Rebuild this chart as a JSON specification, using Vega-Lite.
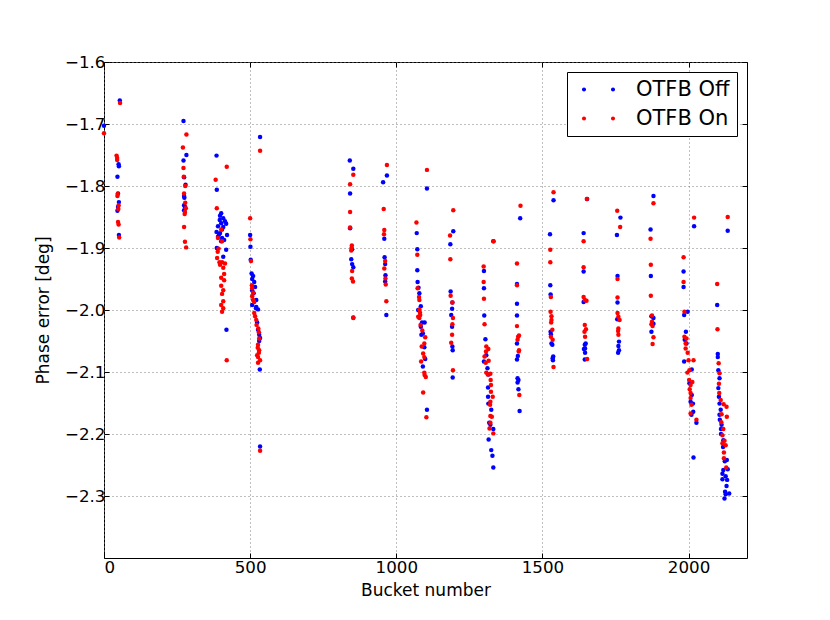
{
  "$schema": "https://vega.github.io/schema/vega-lite/v6.json",
  "description": "Phase error per bucket with OTFB off and on",
  "width": 643,
  "height": 496,
  "autosize": {"type": "none"},
  "padding": {"left": 104, "top": 62, "right": 83, "bottom": 62},
  "background": "white",
  "config": {
    "font": "DejaVu Sans",
    "view": {"stroke": "#000", "strokeWidth": 1},
    "axis": {
      "labelFont": "DejaVu Sans", "labelFontSize": 16.7, "labelColor": "#000",
      "titleFont": "DejaVu Sans", "titleFontSize": 17, "titleFontWeight": "normal", "titleColor": "#000",
      "domain": false, "tickColor": "#000", "tickSize": -5, "tickWidth": 1,
      "gridColor": "#7f7f7f", "gridDash": [1, 3], "gridWidth": 1, "gridOpacity": 1
    },
    "legend": {
      "orient": "top-right", "offset": 10, "title": null,
      "labelFont": "DejaVu Sans", "labelFontSize": 21, "labelColor": "#000",
      "strokeColor": "#000", "fillColor": "#fff", "padding": 7,
      "symbolType": "M-2.48,0L-2.603,0.297L-2.9,0.42L-3.197,0.297L-3.32,0L-3.197,-0.297L-2.9,-0.42L-2.603,-0.297ZM3.32,0L3.197,0.297L2.9,0.42L2.603,0.297L2.48,0L2.603,-0.297L2.9,-0.42L3.197,-0.297Z",
      "symbolSize": 100, "symbolStrokeWidth": 0, "symbolOffset": 14,
      "labelOffset": 27, "rowPadding": 7
    }
  },
  "data": {
    "values": [
      {"bucket": 0, "phase": -1.703, "otfb": "OTFB Off"},
      {"bucket": 54, "phase": -1.662, "otfb": "OTFB Off"},
      {"bucket": 50, "phase": -1.765, "otfb": "OTFB Off"},
      {"bucket": 51, "phase": -1.768, "otfb": "OTFB Off"},
      {"bucket": 46, "phase": -1.785, "otfb": "OTFB Off"},
      {"bucket": 48, "phase": -1.812, "otfb": "OTFB Off"},
      {"bucket": 51, "phase": -1.826, "otfb": "OTFB Off"},
      {"bucket": 48, "phase": -1.834, "otfb": "OTFB Off"},
      {"bucket": 46, "phase": -1.840, "otfb": "OTFB Off"},
      {"bucket": 51, "phase": -1.879, "otfb": "OTFB Off"},
      {"bucket": 272, "phase": -1.695, "otfb": "OTFB Off"},
      {"bucket": 282, "phase": -1.750, "otfb": "OTFB Off"},
      {"bucket": 272, "phase": -1.759, "otfb": "OTFB Off"},
      {"bucket": 274, "phase": -1.786, "otfb": "OTFB Off"},
      {"bucket": 279, "phase": -1.798, "otfb": "OTFB Off"},
      {"bucket": 274, "phase": -1.816, "otfb": "OTFB Off"},
      {"bucket": 275, "phase": -1.819, "otfb": "OTFB Off"},
      {"bucket": 274, "phase": -1.831, "otfb": "OTFB Off"},
      {"bucket": 277, "phase": -1.834, "otfb": "OTFB Off"},
      {"bucket": 274, "phase": -1.839, "otfb": "OTFB Off"},
      {"bucket": 385, "phase": -1.751, "otfb": "OTFB Off"},
      {"bucket": 386, "phase": -1.806, "otfb": "OTFB Off"},
      {"bucket": 401, "phase": -1.844, "otfb": "OTFB Off"},
      {"bucket": 397, "phase": -1.848, "otfb": "OTFB Off"},
      {"bucket": 408, "phase": -1.852, "otfb": "OTFB Off"},
      {"bucket": 396, "phase": -1.855, "otfb": "OTFB Off"},
      {"bucket": 414, "phase": -1.857, "otfb": "OTFB Off"},
      {"bucket": 401, "phase": -1.860, "otfb": "OTFB Off"},
      {"bucket": 418, "phase": -1.861, "otfb": "OTFB Off"},
      {"bucket": 390, "phase": -1.865, "otfb": "OTFB Off"},
      {"bucket": 408, "phase": -1.866, "otfb": "OTFB Off"},
      {"bucket": 404, "phase": -1.870, "otfb": "OTFB Off"},
      {"bucket": 385, "phase": -1.874, "otfb": "OTFB Off"},
      {"bucket": 397, "phase": -1.876, "otfb": "OTFB Off"},
      {"bucket": 394, "phase": -1.878, "otfb": "OTFB Off"},
      {"bucket": 421, "phase": -1.879, "otfb": "OTFB Off"},
      {"bucket": 390, "phase": -1.882, "otfb": "OTFB Off"},
      {"bucket": 404, "phase": -1.884, "otfb": "OTFB Off"},
      {"bucket": 411, "phase": -1.887, "otfb": "OTFB Off"},
      {"bucket": 401, "phase": -1.889, "otfb": "OTFB Off"},
      {"bucket": 386, "phase": -1.900, "otfb": "OTFB Off"},
      {"bucket": 418, "phase": -1.903, "otfb": "OTFB Off"},
      {"bucket": 408, "phase": -1.914, "otfb": "OTFB Off"},
      {"bucket": 419, "phase": -2.032, "otfb": "OTFB Off"},
      {"bucket": 534, "phase": -1.721, "otfb": "OTFB Off"},
      {"bucket": 500, "phase": -1.879, "otfb": "OTFB Off"},
      {"bucket": 501, "phase": -1.898, "otfb": "OTFB Off"},
      {"bucket": 502, "phase": -1.919, "otfb": "OTFB Off"},
      {"bucket": 505, "phase": -1.941, "otfb": "OTFB Off"},
      {"bucket": 510, "phase": -1.945, "otfb": "OTFB Off"},
      {"bucket": 507, "phase": -1.950, "otfb": "OTFB Off"},
      {"bucket": 514, "phase": -1.955, "otfb": "OTFB Off"},
      {"bucket": 517, "phase": -1.963, "otfb": "OTFB Off"},
      {"bucket": 507, "phase": -1.968, "otfb": "OTFB Off"},
      {"bucket": 512, "phase": -1.973, "otfb": "OTFB Off"},
      {"bucket": 521, "phase": -1.984, "otfb": "OTFB Off"},
      {"bucket": 507, "phase": -1.992, "otfb": "OTFB Off"},
      {"bucket": 521, "phase": -1.995, "otfb": "OTFB Off"},
      {"bucket": 520, "phase": -1.997, "otfb": "OTFB Off"},
      {"bucket": 527, "phase": -1.999, "otfb": "OTFB Off"},
      {"bucket": 524, "phase": -2.020, "otfb": "OTFB Off"},
      {"bucket": 527, "phase": -2.032, "otfb": "OTFB Off"},
      {"bucket": 531, "phase": -2.040, "otfb": "OTFB Off"},
      {"bucket": 534, "phase": -2.045, "otfb": "OTFB Off"},
      {"bucket": 531, "phase": -2.050, "otfb": "OTFB Off"},
      {"bucket": 533, "phase": -2.096, "otfb": "OTFB Off"},
      {"bucket": 534, "phase": -2.220, "otfb": "OTFB Off"},
      {"bucket": 841, "phase": -1.759, "otfb": "OTFB Off"},
      {"bucket": 853, "phase": -1.772, "otfb": "OTFB Off"},
      {"bucket": 842, "phase": -1.812, "otfb": "OTFB Off"},
      {"bucket": 842, "phase": -1.868, "otfb": "OTFB Off"},
      {"bucket": 849, "phase": -1.902, "otfb": "OTFB Off"},
      {"bucket": 846, "phase": -1.918, "otfb": "OTFB Off"},
      {"bucket": 849, "phase": -1.926, "otfb": "OTFB Off"},
      {"bucket": 853, "phase": -1.931, "otfb": "OTFB Off"},
      {"bucket": 853, "phase": -2.012, "otfb": "OTFB Off"},
      {"bucket": 968, "phase": -1.783, "otfb": "OTFB Off"},
      {"bucket": 955, "phase": -1.794, "otfb": "OTFB Off"},
      {"bucket": 959, "phase": -1.885, "otfb": "OTFB Off"},
      {"bucket": 960, "phase": -1.915, "otfb": "OTFB Off"},
      {"bucket": 962, "phase": -1.926, "otfb": "OTFB Off"},
      {"bucket": 963, "phase": -1.944, "otfb": "OTFB Off"},
      {"bucket": 962, "phase": -1.954, "otfb": "OTFB Off"},
      {"bucket": 966, "phase": -2.008, "otfb": "OTFB Off"},
      {"bucket": 1105, "phase": -1.804, "otfb": "OTFB Off"},
      {"bucket": 1070, "phase": -1.876, "otfb": "OTFB Off"},
      {"bucket": 1072, "phase": -1.902, "otfb": "OTFB Off"},
      {"bucket": 1072, "phase": -1.936, "otfb": "OTFB Off"},
      {"bucket": 1073, "phase": -1.955, "otfb": "OTFB Off"},
      {"bucket": 1076, "phase": -1.964, "otfb": "OTFB Off"},
      {"bucket": 1079, "phase": -1.973, "otfb": "OTFB Off"},
      {"bucket": 1084, "phase": -1.994, "otfb": "OTFB Off"},
      {"bucket": 1075, "phase": -2.000, "otfb": "OTFB Off"},
      {"bucket": 1088, "phase": -2.020, "otfb": "OTFB Off"},
      {"bucket": 1097, "phase": -2.020, "otfb": "OTFB Off"},
      {"bucket": 1084, "phase": -2.027, "otfb": "OTFB Off"},
      {"bucket": 1091, "phase": -2.038, "otfb": "OTFB Off"},
      {"bucket": 1086, "phase": -2.040, "otfb": "OTFB Off"},
      {"bucket": 1096, "phase": -2.060, "otfb": "OTFB Off"},
      {"bucket": 1099, "phase": -2.079, "otfb": "OTFB Off"},
      {"bucket": 1091, "phase": -2.091, "otfb": "OTFB Off"},
      {"bucket": 1105, "phase": -2.161, "otfb": "OTFB Off"},
      {"bucket": 1195, "phase": -1.873, "otfb": "OTFB Off"},
      {"bucket": 1185, "phase": -1.894, "otfb": "OTFB Off"},
      {"bucket": 1186, "phase": -1.970, "otfb": "OTFB Off"},
      {"bucket": 1192, "phase": -1.988, "otfb": "OTFB Off"},
      {"bucket": 1191, "phase": -1.998, "otfb": "OTFB Off"},
      {"bucket": 1188, "phase": -2.008, "otfb": "OTFB Off"},
      {"bucket": 1191, "phase": -2.027, "otfb": "OTFB Off"},
      {"bucket": 1192, "phase": -2.059, "otfb": "OTFB Off"},
      {"bucket": 1193, "phase": -2.065, "otfb": "OTFB Off"},
      {"bucket": 1193, "phase": -2.109, "otfb": "OTFB Off"},
      {"bucket": 1332, "phase": -1.889, "otfb": "OTFB Off"},
      {"bucket": 1300, "phase": -1.937, "otfb": "OTFB Off"},
      {"bucket": 1300, "phase": -1.965, "otfb": "OTFB Off"},
      {"bucket": 1301, "phase": -2.009, "otfb": "OTFB Off"},
      {"bucket": 1305, "phase": -2.047, "otfb": "OTFB Off"},
      {"bucket": 1308, "phase": -2.073, "otfb": "OTFB Off"},
      {"bucket": 1300, "phase": -2.083, "otfb": "OTFB Off"},
      {"bucket": 1312, "phase": -2.094, "otfb": "OTFB Off"},
      {"bucket": 1316, "phase": -2.104, "otfb": "OTFB Off"},
      {"bucket": 1314, "phase": -2.125, "otfb": "OTFB Off"},
      {"bucket": 1314, "phase": -2.140, "otfb": "OTFB Off"},
      {"bucket": 1315, "phase": -2.151, "otfb": "OTFB Off"},
      {"bucket": 1325, "phase": -2.161, "otfb": "OTFB Off"},
      {"bucket": 1318, "phase": -2.182, "otfb": "OTFB Off"},
      {"bucket": 1322, "phase": -2.185, "otfb": "OTFB Off"},
      {"bucket": 1332, "phase": -2.192, "otfb": "OTFB Off"},
      {"bucket": 1316, "phase": -2.209, "otfb": "OTFB Off"},
      {"bucket": 1325, "phase": -2.226, "otfb": "OTFB Off"},
      {"bucket": 1329, "phase": -2.235, "otfb": "OTFB Off"},
      {"bucket": 1332, "phase": -2.254, "otfb": "OTFB Off"},
      {"bucket": 1424, "phase": -1.852, "otfb": "OTFB Off"},
      {"bucket": 1413, "phase": -1.958, "otfb": "OTFB Off"},
      {"bucket": 1413, "phase": -1.990, "otfb": "OTFB Off"},
      {"bucket": 1413, "phase": -2.009, "otfb": "OTFB Off"},
      {"bucket": 1413, "phase": -2.054, "otfb": "OTFB Off"},
      {"bucket": 1416, "phase": -2.074, "otfb": "OTFB Off"},
      {"bucket": 1413, "phase": -2.080, "otfb": "OTFB Off"},
      {"bucket": 1415, "phase": -2.110, "otfb": "OTFB Off"},
      {"bucket": 1418, "phase": -2.113, "otfb": "OTFB Off"},
      {"bucket": 1415, "phase": -2.117, "otfb": "OTFB Off"},
      {"bucket": 1418, "phase": -2.128, "otfb": "OTFB Off"},
      {"bucket": 1422, "phase": -2.163, "otfb": "OTFB Off"},
      {"bucket": 1538, "phase": -1.823, "otfb": "OTFB Off"},
      {"bucket": 1526, "phase": -1.878, "otfb": "OTFB Off"},
      {"bucket": 1527, "phase": -1.960, "otfb": "OTFB Off"},
      {"bucket": 1528, "phase": -1.975, "otfb": "OTFB Off"},
      {"bucket": 1528, "phase": -2.035, "otfb": "OTFB Off"},
      {"bucket": 1529, "phase": -2.039, "otfb": "OTFB Off"},
      {"bucket": 1531, "phase": -2.054, "otfb": "OTFB Off"},
      {"bucket": 1534, "phase": -2.056, "otfb": "OTFB Off"},
      {"bucket": 1537, "phase": -2.075, "otfb": "OTFB Off"},
      {"bucket": 1535, "phase": -2.078, "otfb": "OTFB Off"},
      {"bucket": 1536, "phase": -2.081, "otfb": "OTFB Off"},
      {"bucket": 1653, "phase": -1.821, "otfb": "OTFB Off"},
      {"bucket": 1641, "phase": -1.876, "otfb": "OTFB Off"},
      {"bucket": 1641, "phase": -1.938, "otfb": "OTFB Off"},
      {"bucket": 1641, "phase": -1.987, "otfb": "OTFB Off"},
      {"bucket": 1648, "phase": -2.054, "otfb": "OTFB Off"},
      {"bucket": 1645, "phase": -2.056, "otfb": "OTFB Off"},
      {"bucket": 1646, "phase": -2.062, "otfb": "OTFB Off"},
      {"bucket": 1642, "phase": -2.063, "otfb": "OTFB Off"},
      {"bucket": 1646, "phase": -2.069, "otfb": "OTFB Off"},
      {"bucket": 1645, "phase": -2.080, "otfb": "OTFB Off"},
      {"bucket": 1767, "phase": -1.851, "otfb": "OTFB Off"},
      {"bucket": 1755, "phase": -1.879, "otfb": "OTFB Off"},
      {"bucket": 1757, "phase": -1.945, "otfb": "OTFB Off"},
      {"bucket": 1757, "phase": -1.988, "otfb": "OTFB Off"},
      {"bucket": 1756, "phase": -2.015, "otfb": "OTFB Off"},
      {"bucket": 1762, "phase": -2.051, "otfb": "OTFB Off"},
      {"bucket": 1760, "phase": -2.058, "otfb": "OTFB Off"},
      {"bucket": 1762, "phase": -2.065, "otfb": "OTFB Off"},
      {"bucket": 1759, "phase": -2.069, "otfb": "OTFB Off"},
      {"bucket": 1880, "phase": -1.816, "otfb": "OTFB Off"},
      {"bucket": 1870, "phase": -1.870, "otfb": "OTFB Off"},
      {"bucket": 1871, "phase": -1.945, "otfb": "OTFB Off"},
      {"bucket": 1873, "phase": -2.010, "otfb": "OTFB Off"},
      {"bucket": 1880, "phase": -2.013, "otfb": "OTFB Off"},
      {"bucket": 1880, "phase": -2.022, "otfb": "OTFB Off"},
      {"bucket": 1873, "phase": -2.035, "otfb": "OTFB Off"},
      {"bucket": 2019, "phase": -1.865, "otfb": "OTFB Off"},
      {"bucket": 1983, "phase": -1.938, "otfb": "OTFB Off"},
      {"bucket": 1983, "phase": -1.963, "otfb": "OTFB Off"},
      {"bucket": 1997, "phase": -2.003, "otfb": "OTFB Off"},
      {"bucket": 1985, "phase": -2.008, "otfb": "OTFB Off"},
      {"bucket": 1991, "phase": -2.035, "otfb": "OTFB Off"},
      {"bucket": 1987, "phase": -2.048, "otfb": "OTFB Off"},
      {"bucket": 1993, "phase": -2.054, "otfb": "OTFB Off"},
      {"bucket": 1985, "phase": -2.083, "otfb": "OTFB Off"},
      {"bucket": 2011, "phase": -2.096, "otfb": "OTFB Off"},
      {"bucket": 2003, "phase": -2.118, "otfb": "OTFB Off"},
      {"bucket": 2011, "phase": -2.137, "otfb": "OTFB Off"},
      {"bucket": 2007, "phase": -2.148, "otfb": "OTFB Off"},
      {"bucket": 2015, "phase": -2.151, "otfb": "OTFB Off"},
      {"bucket": 2016, "phase": -2.164, "otfb": "OTFB Off"},
      {"bucket": 2010, "phase": -2.169, "otfb": "OTFB Off"},
      {"bucket": 2027, "phase": -2.182, "otfb": "OTFB Off"},
      {"bucket": 2017, "phase": -2.238, "otfb": "OTFB Off"},
      {"bucket": 2134, "phase": -1.872, "otfb": "OTFB Off"},
      {"bucket": 2098, "phase": -1.992, "otfb": "OTFB Off"},
      {"bucket": 2100, "phase": -2.071, "otfb": "OTFB Off"},
      {"bucket": 2100, "phase": -2.076, "otfb": "OTFB Off"},
      {"bucket": 2102, "phase": -2.097, "otfb": "OTFB Off"},
      {"bucket": 2106, "phase": -2.110, "otfb": "OTFB Off"},
      {"bucket": 2102, "phase": -2.126, "otfb": "OTFB Off"},
      {"bucket": 2104, "phase": -2.140, "otfb": "OTFB Off"},
      {"bucket": 2106, "phase": -2.151, "otfb": "OTFB Off"},
      {"bucket": 2110, "phase": -2.161, "otfb": "OTFB Off"},
      {"bucket": 2106, "phase": -2.169, "otfb": "OTFB Off"},
      {"bucket": 2107, "phase": -2.177, "otfb": "OTFB Off"},
      {"bucket": 2113, "phase": -2.185, "otfb": "OTFB Off"},
      {"bucket": 2111, "phase": -2.192, "otfb": "OTFB Off"},
      {"bucket": 2111, "phase": -2.200, "otfb": "OTFB Off"},
      {"bucket": 2119, "phase": -2.210, "otfb": "OTFB Off"},
      {"bucket": 2118, "phase": -2.221, "otfb": "OTFB Off"},
      {"bucket": 2124, "phase": -2.244, "otfb": "OTFB Off"},
      {"bucket": 2131, "phase": -2.242, "otfb": "OTFB Off"},
      {"bucket": 2119, "phase": -2.258, "otfb": "OTFB Off"},
      {"bucket": 2134, "phase": -2.257, "otfb": "OTFB Off"},
      {"bucket": 2116, "phase": -2.264, "otfb": "OTFB Off"},
      {"bucket": 2127, "phase": -2.268, "otfb": "OTFB Off"},
      {"bucket": 2116, "phase": -2.273, "otfb": "OTFB Off"},
      {"bucket": 2132, "phase": -2.274, "otfb": "OTFB Off"},
      {"bucket": 2130, "phase": -2.284, "otfb": "OTFB Off"},
      {"bucket": 2125, "phase": -2.293, "otfb": "OTFB Off"},
      {"bucket": 2139, "phase": -2.296, "otfb": "OTFB Off"},
      {"bucket": 2127, "phase": -2.297, "otfb": "OTFB Off"},
      {"bucket": 2123, "phase": -2.304, "otfb": "OTFB Off"},
      {"bucket": 0, "phase": -1.715, "otfb": "OTFB On"},
      {"bucket": 55, "phase": -1.666, "otfb": "OTFB On"},
      {"bucket": 43, "phase": -1.751, "otfb": "OTFB On"},
      {"bucket": 45, "phase": -1.755, "otfb": "OTFB On"},
      {"bucket": 45, "phase": -1.758, "otfb": "OTFB On"},
      {"bucket": 47, "phase": -1.813, "otfb": "OTFB On"},
      {"bucket": 46, "phase": -1.816, "otfb": "OTFB On"},
      {"bucket": 50, "phase": -1.831, "otfb": "OTFB On"},
      {"bucket": 49, "phase": -1.837, "otfb": "OTFB On"},
      {"bucket": 48, "phase": -1.858, "otfb": "OTFB On"},
      {"bucket": 50, "phase": -1.862, "otfb": "OTFB On"},
      {"bucket": 52, "phase": -1.883, "otfb": "OTFB On"},
      {"bucket": 282, "phase": -1.717, "otfb": "OTFB On"},
      {"bucket": 270, "phase": -1.738, "otfb": "OTFB On"},
      {"bucket": 272, "phase": -1.771, "otfb": "OTFB On"},
      {"bucket": 273, "phase": -1.785, "otfb": "OTFB On"},
      {"bucket": 278, "phase": -1.800, "otfb": "OTFB On"},
      {"bucket": 274, "phase": -1.812, "otfb": "OTFB On"},
      {"bucket": 278, "phase": -1.827, "otfb": "OTFB On"},
      {"bucket": 280, "phase": -1.836, "otfb": "OTFB On"},
      {"bucket": 277, "phase": -1.842, "otfb": "OTFB On"},
      {"bucket": 276, "phase": -1.845, "otfb": "OTFB On"},
      {"bucket": 274, "phase": -1.866, "otfb": "OTFB On"},
      {"bucket": 277, "phase": -1.890, "otfb": "OTFB On"},
      {"bucket": 281, "phase": -1.899, "otfb": "OTFB On"},
      {"bucket": 420, "phase": -1.769, "otfb": "OTFB On"},
      {"bucket": 382, "phase": -1.790, "otfb": "OTFB On"},
      {"bucket": 386, "phase": -1.836, "otfb": "OTFB On"},
      {"bucket": 401, "phase": -1.870, "otfb": "OTFB On"},
      {"bucket": 390, "phase": -1.884, "otfb": "OTFB On"},
      {"bucket": 404, "phase": -1.889, "otfb": "OTFB On"},
      {"bucket": 392, "phase": -1.901, "otfb": "OTFB On"},
      {"bucket": 389, "phase": -1.906, "otfb": "OTFB On"},
      {"bucket": 387, "phase": -1.916, "otfb": "OTFB On"},
      {"bucket": 395, "phase": -1.923, "otfb": "OTFB On"},
      {"bucket": 404, "phase": -1.923, "otfb": "OTFB On"},
      {"bucket": 414, "phase": -1.925, "otfb": "OTFB On"},
      {"bucket": 397, "phase": -1.927, "otfb": "OTFB On"},
      {"bucket": 408, "phase": -1.932, "otfb": "OTFB On"},
      {"bucket": 411, "phase": -1.942, "otfb": "OTFB On"},
      {"bucket": 401, "phase": -1.948, "otfb": "OTFB On"},
      {"bucket": 411, "phase": -1.952, "otfb": "OTFB On"},
      {"bucket": 401, "phase": -1.961, "otfb": "OTFB On"},
      {"bucket": 408, "phase": -1.968, "otfb": "OTFB On"},
      {"bucket": 404, "phase": -1.974, "otfb": "OTFB On"},
      {"bucket": 408, "phase": -1.986, "otfb": "OTFB On"},
      {"bucket": 401, "phase": -1.992, "otfb": "OTFB On"},
      {"bucket": 408, "phase": -1.997, "otfb": "OTFB On"},
      {"bucket": 404, "phase": -2.003, "otfb": "OTFB On"},
      {"bucket": 420, "phase": -2.081, "otfb": "OTFB On"},
      {"bucket": 534, "phase": -1.743, "otfb": "OTFB On"},
      {"bucket": 500, "phase": -1.852, "otfb": "OTFB On"},
      {"bucket": 501, "phase": -1.886, "otfb": "OTFB On"},
      {"bucket": 503, "phase": -1.921, "otfb": "OTFB On"},
      {"bucket": 506, "phase": -1.960, "otfb": "OTFB On"},
      {"bucket": 507, "phase": -1.965, "otfb": "OTFB On"},
      {"bucket": 510, "phase": -1.972, "otfb": "OTFB On"},
      {"bucket": 507, "phase": -1.978, "otfb": "OTFB On"},
      {"bucket": 510, "phase": -1.984, "otfb": "OTFB On"},
      {"bucket": 514, "phase": -1.987, "otfb": "OTFB On"},
      {"bucket": 514, "phase": -2.005, "otfb": "OTFB On"},
      {"bucket": 517, "phase": -2.010, "otfb": "OTFB On"},
      {"bucket": 521, "phase": -2.016, "otfb": "OTFB On"},
      {"bucket": 522, "phase": -2.024, "otfb": "OTFB On"},
      {"bucket": 528, "phase": -2.030, "otfb": "OTFB On"},
      {"bucket": 530, "phase": -2.036, "otfb": "OTFB On"},
      {"bucket": 531, "phase": -2.046, "otfb": "OTFB On"},
      {"bucket": 527, "phase": -2.056, "otfb": "OTFB On"},
      {"bucket": 526, "phase": -2.061, "otfb": "OTFB On"},
      {"bucket": 531, "phase": -2.065, "otfb": "OTFB On"},
      {"bucket": 530, "phase": -2.069, "otfb": "OTFB On"},
      {"bucket": 524, "phase": -2.073, "otfb": "OTFB On"},
      {"bucket": 527, "phase": -2.076, "otfb": "OTFB On"},
      {"bucket": 534, "phase": -2.081, "otfb": "OTFB On"},
      {"bucket": 527, "phase": -2.085, "otfb": "OTFB On"},
      {"bucket": 534, "phase": -2.227, "otfb": "OTFB On"},
      {"bucket": 853, "phase": -1.782, "otfb": "OTFB On"},
      {"bucket": 842, "phase": -1.797, "otfb": "OTFB On"},
      {"bucket": 842, "phase": -1.842, "otfb": "OTFB On"},
      {"bucket": 842, "phase": -1.867, "otfb": "OTFB On"},
      {"bucket": 848, "phase": -1.896, "otfb": "OTFB On"},
      {"bucket": 847, "phase": -1.900, "otfb": "OTFB On"},
      {"bucket": 846, "phase": -1.904, "otfb": "OTFB On"},
      {"bucket": 849, "phase": -1.937, "otfb": "OTFB On"},
      {"bucket": 848, "phase": -1.949, "otfb": "OTFB On"},
      {"bucket": 852, "phase": -1.954, "otfb": "OTFB On"},
      {"bucket": 853, "phase": -2.013, "otfb": "OTFB On"},
      {"bucket": 968, "phase": -1.766, "otfb": "OTFB On"},
      {"bucket": 957, "phase": -1.837, "otfb": "OTFB On"},
      {"bucket": 959, "phase": -1.871, "otfb": "OTFB On"},
      {"bucket": 958, "phase": -1.878, "otfb": "OTFB On"},
      {"bucket": 962, "phase": -1.921, "otfb": "OTFB On"},
      {"bucket": 959, "phase": -1.933, "otfb": "OTFB On"},
      {"bucket": 963, "phase": -1.949, "otfb": "OTFB On"},
      {"bucket": 964, "phase": -1.959, "otfb": "OTFB On"},
      {"bucket": 966, "phase": -1.986, "otfb": "OTFB On"},
      {"bucket": 1105, "phase": -1.774, "otfb": "OTFB On"},
      {"bucket": 1069, "phase": -1.859, "otfb": "OTFB On"},
      {"bucket": 1072, "phase": -1.911, "otfb": "OTFB On"},
      {"bucket": 1073, "phase": -1.965, "otfb": "OTFB On"},
      {"bucket": 1078, "phase": -1.979, "otfb": "OTFB On"},
      {"bucket": 1079, "phase": -1.984, "otfb": "OTFB On"},
      {"bucket": 1079, "phase": -1.999, "otfb": "OTFB On"},
      {"bucket": 1081, "phase": -2.004, "otfb": "OTFB On"},
      {"bucket": 1082, "phase": -2.008, "otfb": "OTFB On"},
      {"bucket": 1075, "phase": -2.011, "otfb": "OTFB On"},
      {"bucket": 1079, "phase": -2.013, "otfb": "OTFB On"},
      {"bucket": 1083, "phase": -2.024, "otfb": "OTFB On"},
      {"bucket": 1089, "phase": -2.033, "otfb": "OTFB On"},
      {"bucket": 1099, "phase": -2.044, "otfb": "OTFB On"},
      {"bucket": 1096, "phase": -2.054, "otfb": "OTFB On"},
      {"bucket": 1087, "phase": -2.059, "otfb": "OTFB On"},
      {"bucket": 1092, "phase": -2.070, "otfb": "OTFB On"},
      {"bucket": 1096, "phase": -2.076, "otfb": "OTFB On"},
      {"bucket": 1085, "phase": -2.083, "otfb": "OTFB On"},
      {"bucket": 1096, "phase": -2.101, "otfb": "OTFB On"},
      {"bucket": 1097, "phase": -2.105, "otfb": "OTFB On"},
      {"bucket": 1101, "phase": -2.108, "otfb": "OTFB On"},
      {"bucket": 1092, "phase": -2.133, "otfb": "OTFB On"},
      {"bucket": 1103, "phase": -2.173, "otfb": "OTFB On"},
      {"bucket": 1195, "phase": -1.839, "otfb": "OTFB On"},
      {"bucket": 1184, "phase": -1.880, "otfb": "OTFB On"},
      {"bucket": 1185, "phase": -1.918, "otfb": "OTFB On"},
      {"bucket": 1186, "phase": -1.977, "otfb": "OTFB On"},
      {"bucket": 1192, "phase": -1.988, "otfb": "OTFB On"},
      {"bucket": 1194, "phase": -2.013, "otfb": "OTFB On"},
      {"bucket": 1192, "phase": -2.023, "otfb": "OTFB On"},
      {"bucket": 1191, "phase": -2.040, "otfb": "OTFB On"},
      {"bucket": 1188, "phase": -2.053, "otfb": "OTFB On"},
      {"bucket": 1194, "phase": -2.097, "otfb": "OTFB On"},
      {"bucket": 1333, "phase": -1.889, "otfb": "OTFB On"},
      {"bucket": 1299, "phase": -1.930, "otfb": "OTFB On"},
      {"bucket": 1299, "phase": -1.955, "otfb": "OTFB On"},
      {"bucket": 1300, "phase": -1.982, "otfb": "OTFB On"},
      {"bucket": 1302, "phase": -2.023, "otfb": "OTFB On"},
      {"bucket": 1308, "phase": -2.059, "otfb": "OTFB On"},
      {"bucket": 1315, "phase": -2.063, "otfb": "OTFB On"},
      {"bucket": 1307, "phase": -2.067, "otfb": "OTFB On"},
      {"bucket": 1302, "phase": -2.075, "otfb": "OTFB On"},
      {"bucket": 1316, "phase": -2.082, "otfb": "OTFB On"},
      {"bucket": 1306, "phase": -2.085, "otfb": "OTFB On"},
      {"bucket": 1308, "phase": -2.101, "otfb": "OTFB On"},
      {"bucket": 1322, "phase": -2.103, "otfb": "OTFB On"},
      {"bucket": 1313, "phase": -2.104, "otfb": "OTFB On"},
      {"bucket": 1323, "phase": -2.113, "otfb": "OTFB On"},
      {"bucket": 1324, "phase": -2.121, "otfb": "OTFB On"},
      {"bucket": 1324, "phase": -2.132, "otfb": "OTFB On"},
      {"bucket": 1330, "phase": -2.140, "otfb": "OTFB On"},
      {"bucket": 1322, "phase": -2.148, "otfb": "OTFB On"},
      {"bucket": 1321, "phase": -2.153, "otfb": "OTFB On"},
      {"bucket": 1322, "phase": -2.171, "otfb": "OTFB On"},
      {"bucket": 1327, "phase": -2.172, "otfb": "OTFB On"},
      {"bucket": 1322, "phase": -2.182, "otfb": "OTFB On"},
      {"bucket": 1319, "phase": -2.191, "otfb": "OTFB On"},
      {"bucket": 1332, "phase": -2.199, "otfb": "OTFB On"},
      {"bucket": 1425, "phase": -1.832, "otfb": "OTFB On"},
      {"bucket": 1413, "phase": -1.925, "otfb": "OTFB On"},
      {"bucket": 1413, "phase": -1.960, "otfb": "OTFB On"},
      {"bucket": 1413, "phase": -2.026, "otfb": "OTFB On"},
      {"bucket": 1420, "phase": -2.041, "otfb": "OTFB On"},
      {"bucket": 1417, "phase": -2.043, "otfb": "OTFB On"},
      {"bucket": 1415, "phase": -2.048, "otfb": "OTFB On"},
      {"bucket": 1420, "phase": -2.065, "otfb": "OTFB On"},
      {"bucket": 1419, "phase": -2.067, "otfb": "OTFB On"},
      {"bucket": 1421, "phase": -2.137, "otfb": "OTFB On"},
      {"bucket": 1538, "phase": -1.810, "otfb": "OTFB On"},
      {"bucket": 1527, "phase": -1.903, "otfb": "OTFB On"},
      {"bucket": 1527, "phase": -1.923, "otfb": "OTFB On"},
      {"bucket": 1529, "phase": -1.979, "otfb": "OTFB On"},
      {"bucket": 1528, "phase": -2.003, "otfb": "OTFB On"},
      {"bucket": 1531, "phase": -2.010, "otfb": "OTFB On"},
      {"bucket": 1531, "phase": -2.016, "otfb": "OTFB On"},
      {"bucket": 1530, "phase": -2.020, "otfb": "OTFB On"},
      {"bucket": 1534, "phase": -2.032, "otfb": "OTFB On"},
      {"bucket": 1529, "phase": -2.043, "otfb": "OTFB On"},
      {"bucket": 1535, "phase": -2.048, "otfb": "OTFB On"},
      {"bucket": 1538, "phase": -2.092, "otfb": "OTFB On"},
      {"bucket": 1652, "phase": -1.821, "otfb": "OTFB On"},
      {"bucket": 1641, "phase": -1.889, "otfb": "OTFB On"},
      {"bucket": 1641, "phase": -1.931, "otfb": "OTFB On"},
      {"bucket": 1641, "phase": -1.979, "otfb": "OTFB On"},
      {"bucket": 1645, "phase": -1.984, "otfb": "OTFB On"},
      {"bucket": 1651, "phase": -1.985, "otfb": "OTFB On"},
      {"bucket": 1645, "phase": -2.024, "otfb": "OTFB On"},
      {"bucket": 1649, "phase": -2.031, "otfb": "OTFB On"},
      {"bucket": 1644, "phase": -2.035, "otfb": "OTFB On"},
      {"bucket": 1646, "phase": -2.043, "otfb": "OTFB On"},
      {"bucket": 1653, "phase": -2.079, "otfb": "OTFB On"},
      {"bucket": 1756, "phase": -1.840, "otfb": "OTFB On"},
      {"bucket": 1766, "phase": -1.866, "otfb": "OTFB On"},
      {"bucket": 1757, "phase": -1.950, "otfb": "OTFB On"},
      {"bucket": 1757, "phase": -1.980, "otfb": "OTFB On"},
      {"bucket": 1757, "phase": -2.005, "otfb": "OTFB On"},
      {"bucket": 1760, "phase": -2.011, "otfb": "OTFB On"},
      {"bucket": 1764, "phase": -2.016, "otfb": "OTFB On"},
      {"bucket": 1760, "phase": -2.030, "otfb": "OTFB On"},
      {"bucket": 1759, "phase": -2.034, "otfb": "OTFB On"},
      {"bucket": 1760, "phase": -2.040, "otfb": "OTFB On"},
      {"bucket": 1880, "phase": -1.828, "otfb": "OTFB On"},
      {"bucket": 1870, "phase": -1.885, "otfb": "OTFB On"},
      {"bucket": 1871, "phase": -1.927, "otfb": "OTFB On"},
      {"bucket": 1871, "phase": -1.977, "otfb": "OTFB On"},
      {"bucket": 1875, "phase": -2.009, "otfb": "OTFB On"},
      {"bucket": 1875, "phase": -2.019, "otfb": "OTFB On"},
      {"bucket": 1873, "phase": -2.023, "otfb": "OTFB On"},
      {"bucket": 1877, "phase": -2.026, "otfb": "OTFB On"},
      {"bucket": 1880, "phase": -2.044, "otfb": "OTFB On"},
      {"bucket": 1877, "phase": -2.055, "otfb": "OTFB On"},
      {"bucket": 2019, "phase": -1.851, "otfb": "OTFB On"},
      {"bucket": 1983, "phase": -1.915, "otfb": "OTFB On"},
      {"bucket": 1983, "phase": -1.955, "otfb": "OTFB On"},
      {"bucket": 1986, "phase": -2.003, "otfb": "OTFB On"},
      {"bucket": 1986, "phase": -2.043, "otfb": "OTFB On"},
      {"bucket": 1993, "phase": -2.046, "otfb": "OTFB On"},
      {"bucket": 1990, "phase": -2.054, "otfb": "OTFB On"},
      {"bucket": 1990, "phase": -2.062, "otfb": "OTFB On"},
      {"bucket": 1997, "phase": -2.069, "otfb": "OTFB On"},
      {"bucket": 2000, "phase": -2.081, "otfb": "OTFB On"},
      {"bucket": 2017, "phase": -2.081, "otfb": "OTFB On"},
      {"bucket": 2003, "phase": -2.097, "otfb": "OTFB On"},
      {"bucket": 1996, "phase": -2.101, "otfb": "OTFB On"},
      {"bucket": 2002, "phase": -2.113, "otfb": "OTFB On"},
      {"bucket": 2013, "phase": -2.116, "otfb": "OTFB On"},
      {"bucket": 2007, "phase": -2.121, "otfb": "OTFB On"},
      {"bucket": 2004, "phase": -2.128, "otfb": "OTFB On"},
      {"bucket": 2007, "phase": -2.134, "otfb": "OTFB On"},
      {"bucket": 2007, "phase": -2.142, "otfb": "OTFB On"},
      {"bucket": 2010, "phase": -2.153, "otfb": "OTFB On"},
      {"bucket": 2007, "phase": -2.167, "otfb": "OTFB On"},
      {"bucket": 2027, "phase": -2.177, "otfb": "OTFB On"},
      {"bucket": 2134, "phase": -1.850, "otfb": "OTFB On"},
      {"bucket": 2098, "phase": -1.958, "otfb": "OTFB On"},
      {"bucket": 2099, "phase": -2.031, "otfb": "OTFB On"},
      {"bucket": 2103, "phase": -2.086, "otfb": "OTFB On"},
      {"bucket": 2106, "phase": -2.102, "otfb": "OTFB On"},
      {"bucket": 2104, "phase": -2.119, "otfb": "OTFB On"},
      {"bucket": 2105, "phase": -2.134, "otfb": "OTFB On"},
      {"bucket": 2110, "phase": -2.145, "otfb": "OTFB On"},
      {"bucket": 2120, "phase": -2.152, "otfb": "OTFB On"},
      {"bucket": 2130, "phase": -2.156, "otfb": "OTFB On"},
      {"bucket": 2113, "phase": -2.168, "otfb": "OTFB On"},
      {"bucket": 2131, "phase": -2.172, "otfb": "OTFB On"},
      {"bucket": 2112, "phase": -2.181, "otfb": "OTFB On"},
      {"bucket": 2119, "phase": -2.192, "otfb": "OTFB On"},
      {"bucket": 2116, "phase": -2.202, "otfb": "OTFB On"},
      {"bucket": 2123, "phase": -2.211, "otfb": "OTFB On"},
      {"bucket": 2116, "phase": -2.215, "otfb": "OTFB On"},
      {"bucket": 2127, "phase": -2.218, "otfb": "OTFB On"},
      {"bucket": 2121, "phase": -2.230, "otfb": "OTFB On"},
      {"bucket": 2121, "phase": -2.239, "otfb": "OTFB On"},
      {"bucket": 2129, "phase": -2.254, "otfb": "OTFB On"}
    ]
  },
  "layer": [
    {
      "transform": [{"filter": "datum.otfb == 'OTFB Off'"}],
      "mark": {"type": "point", "filled": true, "size": 20, "opacity": 1},
      "encoding": {
        "x": {
          "field": "bucket", "type": "quantitative",
          "scale": {"domain": [0, 2200], "nice": false, "zero": false},
          "axis": {"orient": "bottom", "values": [0, 500, 1000, 1500, 2000], "format": "d", "title": "Bucket number", "labelPadding": 6, "titlePadding": 7}
        },
        "y": {
          "field": "phase", "type": "quantitative",
          "scale": {"domain": [-2.4, -1.6], "nice": false, "zero": false},
          "axis": {"orient": "left", "values": [-2.3, -2.2, -2.1, -2.0, -1.9, -1.8, -1.7, -1.6], "labelExpr": "replace(format(datum.value, '.1f'), '-', '\u2212')", "title": "Phase error [deg]", "labelPadding": 4, "titlePadding": 12}
        },
        "color": {
          "field": "otfb", "type": "nominal",
          "scale": {"domain": ["OTFB Off", "OTFB On"], "range": ["#0000ff", "#ff0000"]}
        }
      }
    },
    {
      "transform": [{"filter": "datum.otfb == 'OTFB On'"}],
      "mark": {"type": "point", "filled": true, "size": 20, "opacity": 1},
      "encoding": {
        "x": {
          "field": "bucket", "type": "quantitative",
          "axis": {"orient": "top", "values": [0, 500, 1000, 1500, 2000], "labels": false, "grid": false, "title": null}
        },
        "y": {
          "field": "phase", "type": "quantitative",
          "axis": {"orient": "right", "values": [-2.3, -2.2, -2.1, -2.0, -1.9, -1.8, -1.7, -1.6], "labels": false, "grid": false, "title": null}
        },
        "color": {"field": "otfb", "type": "nominal"}
      }
    }
  ],
  "resolve": {"axis": {"x": "independent", "y": "independent"}}
}
